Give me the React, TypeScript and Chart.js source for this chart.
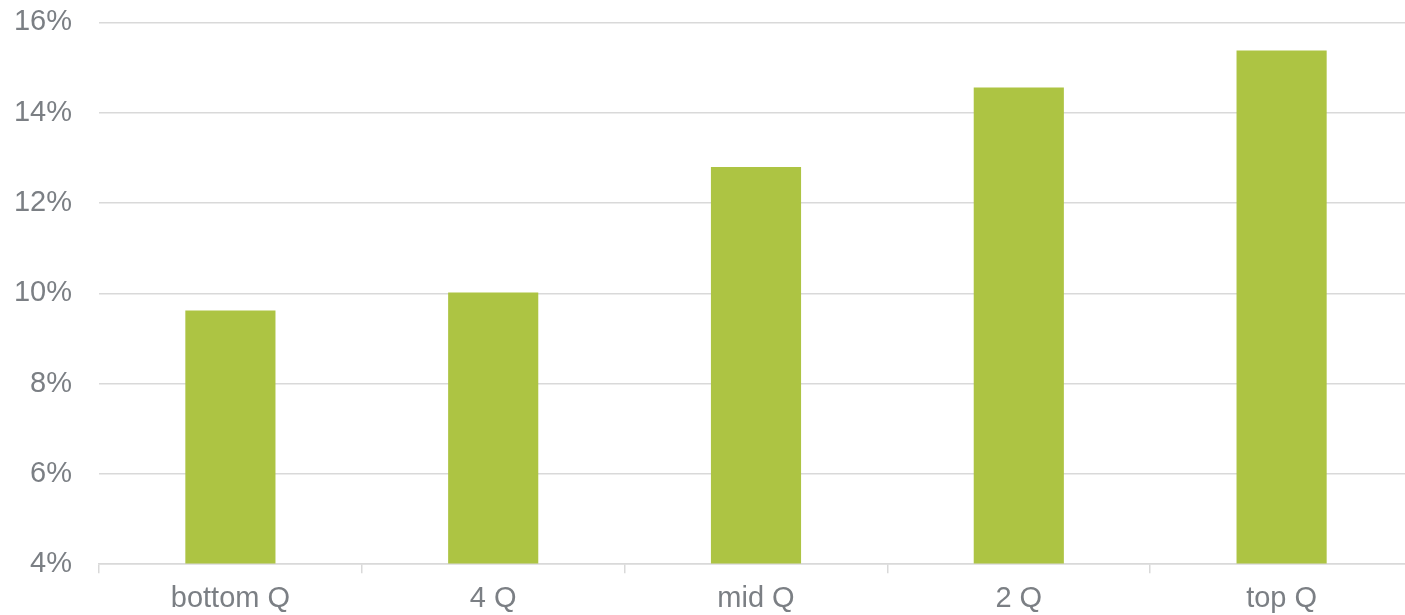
import React, { useEffect, useRef } from "react";
import { Chart, registerables } from "chart.js";

Chart.register(...registerables);

const categories = ["bottom Q", "4 Q", "mid Q", "2 Q", "top Q"];
const values = [9.62, 10.02, 12.8, 14.56, 15.38];
const yTicks = [4, 6, 8, 10, 12, 14, 16];

const FONT = "'Liberation Sans', Arial, Helvetica, sans-serif";
const TEXT = "#7b7f84";
const GRID = "#d9d9d9";

export default function App() {
  const ref = useRef<HTMLCanvasElement | null>(null);
  useEffect(() => {
    if (!ref.current) return;
    const chart = new Chart(ref.current, {
      type: "bar",
      data: {
        labels: categories,
        datasets: [
          {
            data: values,
            backgroundColor: "#adc443",
            borderWidth: 0,
            categoryPercentage: 1,
            barPercentage: 0.343,
            base: 4,
          },
        ],
      },
      options: {
        responsive: false,
        animation: false,
        layout: { padding: { top: 0, right: 7, left: 0, bottom: -9 } },
        plugins: { legend: { display: false }, tooltip: { enabled: false } },
        scales: {
          x: {
            offset: true,
            grid: {
              offset: true,
              drawOnChartArea: false,
              drawTicks: true,
              tickLength: 9,
              color: GRID,
              lineWidth: 1.5,
            },
            border: { color: GRID, width: 1.5 },
            ticks: {
              color: TEXT,
              font: { family: FONT, size: 29 },
              padding: 8,
              maxRotation: 0,
            },
          },
          y: {
            min: 4,
            max: 16,
            afterFit: (scale: any) => {
              scale.width = 99;
            },
            afterBuildTicks: (scale: any) => {
              scale.ticks = yTicks.map((v) => ({ value: v }));
            },
            grid: {
              color: GRID,
              lineWidth: 1.5,
              drawTicks: true,
              tickLength: 22,
              tickColor: "rgba(0,0,0,0)",
            },
            border: { display: false },
            ticks: {
              color: TEXT,
              font: { family: FONT, size: 29 },
              padding: 5,
              callback: (v: any) => `${v}%`,
            },
          },
        },
      },
    });
    return () => chart.destroy();
  }, []);
  return (
    <div
      style={{
        position: "fixed",
        left: 0,
        top: 0,
        width: 1405,
        height: 615,
        overflow: "hidden",
        background: "#fff",
      }}
    >
      <canvas ref={ref} width={1420} height={615} style={{ display: "block" }} />
    </div>
  );
}
